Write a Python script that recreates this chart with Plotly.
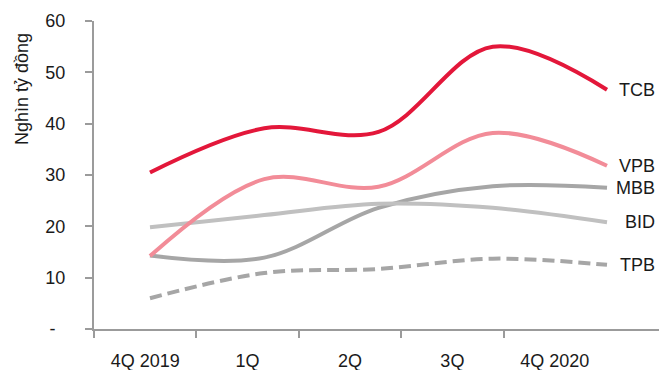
import plotly.graph_objects as go

categories = ["4Q 2019", "1Q", "2Q", "3Q", "4Q 2020"]
series_names = ["TPB", "MBB", "BID", "VPB", "TCB"]
tpb = [6.0, 10.9, 11.7, 13.7, 12.5]
mbb = [14.3, 13.9, 23.6, 27.8, 27.5]
bid = [19.8, 22.2, 24.4, 23.6, 20.8]
vpb = [14.2, 29.2, 27.7, 38.2, 31.8]
tcb = [30.5, 39.1, 38.4, 55.0, 46.6]
y_ticks = [0, 10, 20, 30, 40, 50, 60]
y_tick_text = ["-\u00a0\u00a0", "10", "20", "30", "40", "50", "60"]

values = {"TPB": tpb, "MBB": mbb, "BID": bid, "VPB": vpb, "TCB": tcb}
colors = {"TPB": "#a6a6a6", "MBB": "#a6a6a6", "BID": "#c0c0c0",
          "VPB": "#f28c98", "TCB": "#e3173a"}
dashes = {"TPB": "12px,6px", "MBB": "solid", "BID": "solid", "VPB": "solid", "TCB": "solid"}

FONT = "Liberation Sans, Arial, sans-serif"
FS = 18
idx = list(range(len(categories)))

fig = go.Figure()
# invisible trace that anchors the category (label) axis
fig.add_trace(go.Scatter(x=idx, y=[None] * len(idx), mode="lines",
                         showlegend=False, hoverinfo="skip", xaxis="x", yaxis="y"))
for name in series_names:
    fig.add_trace(go.Scatter(
        x=idx, y=values[name], mode="lines", name=name, xaxis="x2", yaxis="y",
        line=dict(color=colors[name], width=4, shape="spline", smoothing=1.0,
                  dash=dashes[name]),
        showlegend=False, hoverinfo="skip"))
    fig.add_annotation(x=0.9965, xref="paper", y=values[name][-1], yref="y",
                       text=name, showarrow=False, xanchor="right", yanchor="middle",
                       font=dict(family=FONT, size=FS, color="#1a1a1a"))

axis_grey = "#9b9b9b"
fig.update_layout(
    width=659, height=370,
    margin=dict(l=94, r=0, t=21, b=41),
    paper_bgcolor="white", plot_bgcolor="white",
    font=dict(family=FONT, size=FS, color="#1a1a1a"),
    xaxis=dict(type="linear", range=[-0.5, 5.018], tickmode="array",
               tickvals=idx, ticktext=categories, ticks="",
               showline=True, linecolor=axis_grey, linewidth=2,
               showgrid=False, zeroline=False, ticklabelstandoff=14,
               minor=dict(tickvals=[i - 0.5 for i in idx], ticks="outside",
                          ticklen=7, tickwidth=2, tickcolor=axis_grey, showgrid=False)),
    xaxis2=dict(type="linear", range=[-0.49, 4.455], overlaying="x", anchor="y",
                visible=False, showgrid=False, zeroline=False),
    yaxis=dict(range=[0, 60], tickmode="array", tickvals=y_ticks, ticktext=y_tick_text,
               ticks="outside", ticklen=7, tickwidth=2, tickcolor=axis_grey,
               showline=True, linecolor=axis_grey, linewidth=2,
               showgrid=False, zeroline=False, ticklabelstandoff=16),
)
fig.add_annotation(x=-0.1274, xref="paper", y=0.779, yref="paper",
                   text="Nghìn tỷ đồng", textangle=-90, showarrow=False,
                   xanchor="center", yanchor="middle",
                   font=dict(family=FONT, size=FS, color="#1a1a1a"))

fig.write_html("out.html")
